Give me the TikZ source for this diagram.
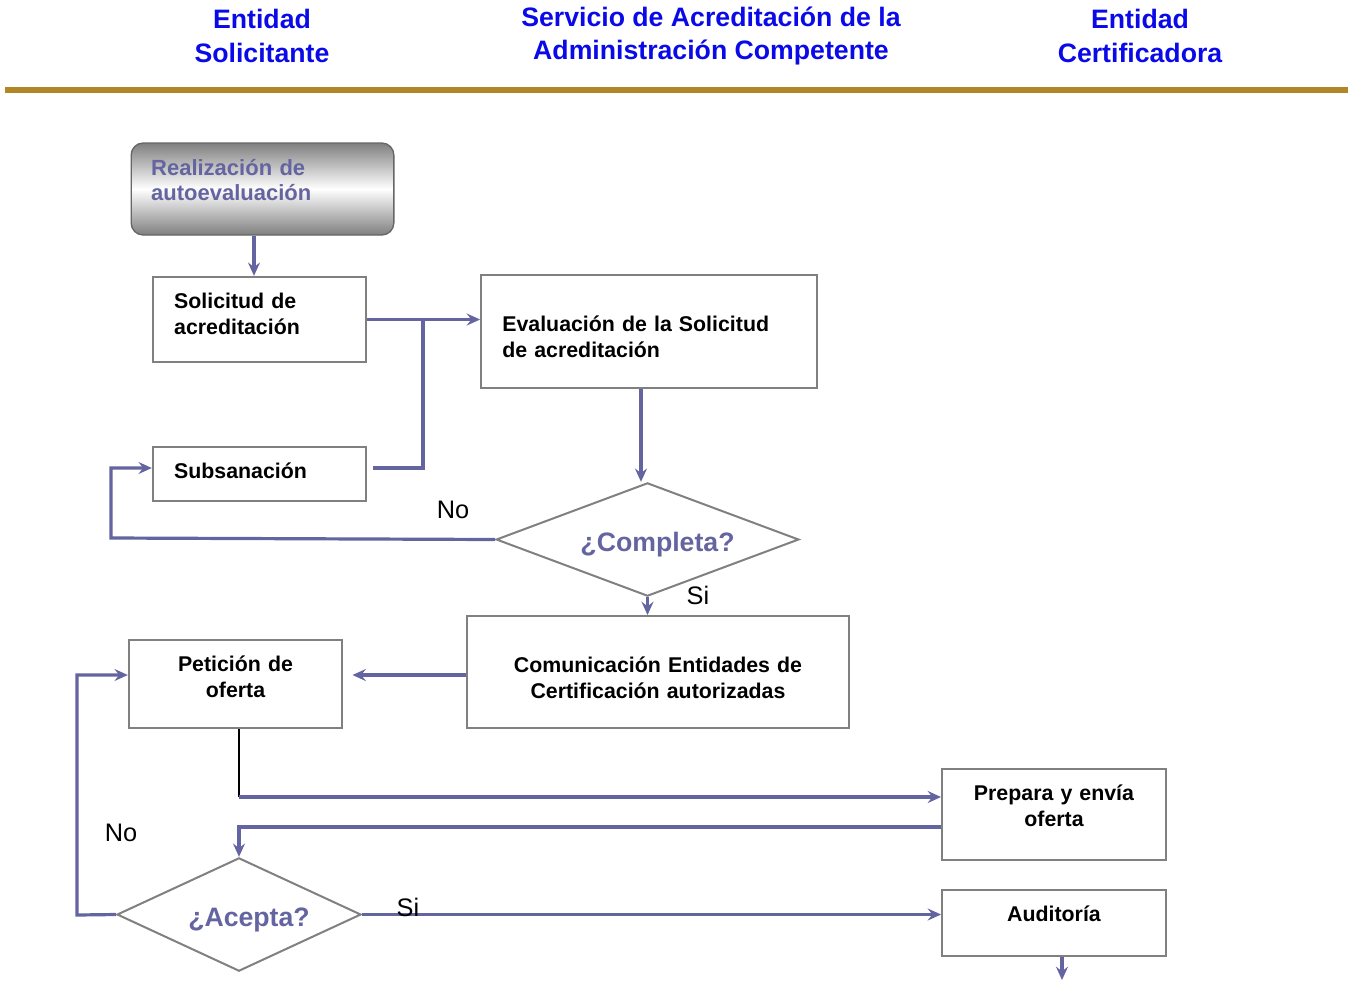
\documentclass[tikz,border=0pt]{standalone}
\usepackage{fontspec}
\setmainfont{Liberation Sans}
\usetikzlibrary{shapes.geometric,arrows.meta}
\definecolor{headblue}{RGB}{10,10,232}
\definecolor{gold}{RGB}{176,134,39}
\definecolor{flowcol}{RGB}{100,100,160}
\definecolor{boxgray}{RGB}{128,128,128}
\begin{document}
\begin{tikzpicture}[x=0.75pt,y=-0.75pt,
  head/.style={text=headblue,font=\fontsize{20}{25}\selectfont\bfseries,align=center},
  box/.style={draw=boxgray,line width=1.5pt,fill=white,inner xsep=15pt,
    font=\fontsize{16}{19.5}\selectfont\bfseries},
  lift/.style={execute at end node={\endgraf\vspace{#1}}},
  ask/.style={draw=boxgray,line width=1.5pt,diamond,inner sep=0pt,text=flowcol,
    font=\fontsize{20}{22}\selectfont\bfseries},
  flow/.style={draw=flowcol,line width=2.4pt,-{Stealth[length=10pt,width=9pt,inset=3.5pt]}},
  line/.style={draw=flowcol,line width=2.4pt},
  tag/.style={font=\fontsize{19}{22}\selectfont}]

\useasboundingbox (0,0) rectangle (1348,982);

\node[head] (h1) at (262,36) {Entidad\\Solicitante};
\node[head] (h2) at (711,36) {Servicio de Acreditación de la\\Administración Competente};
\node[head] (h3) at (1140,36) {Entidad\\Certificadora};
\draw[gold,line width=4pt] (5,90) -- (1348,90);

\node[draw=black!60,line width=1pt,rounded corners=9pt,top color=black!50,bottom color=black!50,middle color=white,
  minimum width=197pt,minimum height=69pt,text width=167pt,align=left,inner xsep=15pt,text=flowcol,
  font=\fontsize{16.5}{18.75}\selectfont\bfseries,lift=13.5pt] (real) at (262.5,189) {Realización de\\autoevaluación};

\node[box,minimum width=160pt,minimum height=64pt,text width=128pt,align=left,lift=8pt] (sol) at (259.5,319.5) {Solicitud de\\acreditación};
\node[box,minimum width=252pt,minimum height=85pt,text width=220pt,align=left,lift=-8pt] (eva) at (649,331.5) {Evaluación de la Solicitud\\de acreditación};
\node[box,minimum width=160pt,minimum height=40.5pt,text width=128pt,align=left,lift=4.5pt] (sub) at (259.5,474) {Subsanación};
\node[ask,aspect=2.67,minimum width=227pt,minimum height=85pt] (comp) at (647.5,539.5) {\hspace{15pt}\rule{0pt}{22pt}¿Completa?};
\node[box,minimum width=286.5pt,minimum height=84pt,text width=255pt,align=center,lift=-9pt] (com) at (658,672) {Comunicación Entidades de\\Certificación autorizadas};
\node[box,minimum width=160pt,minimum height=66pt,text width=128pt,align=center,lift=11pt] (pet) at (235.5,684) {Petición de\\oferta};
\node[box,minimum width=168pt,minimum height=68pt,text width=137pt,align=center,lift=12.75pt] (pre) at (1054,814.5) {Prepara y envía\\oferta};
\node[box,minimum width=168pt,minimum height=49.5pt,text width=137pt,align=center,lift=13.5pt] (aud) at (1054,923) {Auditoría};
\node[ask,aspect=2.15,minimum width=183pt,minimum height=85pt] (acep) at (239,914.5) {\hspace{15pt}\rule{0pt}{22pt}¿Acepta?};

\coordinate (sx) at (254,0);
\coordinate (ex) at (641,0);
\coordinate (j1) at (423,321);
\coordinate (sy) at (111,468);
\coordinate (l1) at (111,538);
\coordinate (py) at (77,675);
\coordinate (p1) at (239,797);
\coordinate (p2) at (239,827);
\coordinate (l2) at (77,915);
\coordinate (fin) at (1062,980);

\draw[flow] (real.south -| sx) -- (sol.north -| sx);
\draw[flow] (sol.east) -- (sol.east -| eva.west);
\draw[line] ([xshift=4pt]sub.east |- sy) -| (j1);
\draw[flow] (eva.south -| ex) -- (comp.north -| ex);
\draw[flow] (comp.west) -- (l1) -- (sy) -- (sub.west |- sy);
\draw[flow] (comp.south) -- (comp.south |- com.north);
\draw[flow,shorten >=7pt] (com.west |- py) -- (pet.east |- py);
\draw[black,line width=1pt] (p1 |- pet.south) -- (p1);
\draw[flow] (p1) -- (p1 -| pre.west);
\draw[flow] (p2 -| pre.west) -- (p2) -- (acep.north);
\draw[flow] (acep.west) -- (l2) -- (py) -- (pet.west |- py);
\draw[flow] (acep.east) -- (acep.east -| aud.west);
\draw[flow] (fin |- aud.south) -- (fin);

\node[tag] (no1) at (453,510) {No};
\node[tag] (si1) at (698,595) {Si};
\node[tag] (no2) at (121,833) {No};
\node[tag] (si2) at (408,907) {Si};

\end{tikzpicture}
\end{document}
